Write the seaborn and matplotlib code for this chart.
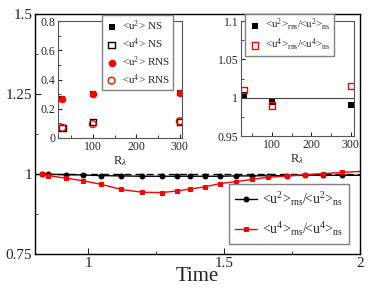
import numpy as np
import pandas as pd
import matplotlib
import seaborn as sns
import matplotlib.pyplot as plt
from matplotlib.ticker import FormatStrFormatter, MultipleLocator

# main panel: ratio of moments vs time
time = [0.830, 0.854, 0.918, 0.980, 1.047, 1.121, 1.198, 1.272, 1.326, 1.375,
        1.430, 1.485, 1.543, 1.602, 1.663, 1.731, 1.798, 1.863, 1.933, 2.0]
u2_ratio = [1.000, 0.999, 0.998, 0.997, 0.995, 0.994, 0.993, 0.993, 0.993, 0.993,
            0.993, 0.993, 0.994, 0.994, 0.995, 0.995, 0.996, 0.996, 0.996, 0.996]
u4_ratio = [1.000, 0.995, 0.987, 0.979, 0.968, 0.952, 0.943, 0.942, 0.947, 0.953,
            0.960, 0.970, 0.976, 0.983, 0.990, 0.994, 0.998, 1.001, 1.005, 1.008]

# inset 1: moments vs R_lambda
r_lambda = [30, 100, 300]
u2_ns = [0.27, 0.30, 0.305]
u4_ns = [0.07, 0.11, 0.11]
u2_rns = [0.27, 0.30, 0.305]
u4_rns = [0.07, 0.095, 0.115]

# inset 2: ratios vs R_lambda
u2_rat = [1.004, 0.994, 0.990]
u4_rat = [1.010, 0.990, 1.015]

sns.set_style('ticks')
plt.rcParams['font.family'] = ['Liberation Serif', 'DejaVu Serif']
plt.rcParams['mathtext.fontset'] = 'custom'
plt.rcParams['mathtext.rm'] = 'Liberation Serif'
plt.rcParams['mathtext.it'] = 'Liberation Serif:italic'
plt.rcParams['xtick.direction'] = 'in'
plt.rcParams['ytick.direction'] = 'in'

W, H = 374, 289
fig = plt.figure(figsize=(W / 100, H / 100), dpi=100)

def box(l, t, r, b):
    return [l / W, 1 - b / H, (r - l) / W, (b - t) / H]

ax = fig.add_axes(box(35, 14, 360, 254))
ax.axhline(1, ls='--', color='black', lw=1, dashes=(5, 3))
n = len(time)
lab2 = r'<u$^{2}$>$_{\rm rns}$/<u$^{2}$>$_{\rm ns}$'
lab4 = r'<u$^{4}$>$_{\rm rns}$/<u$^{4}$>$_{\rm ns}$'
sns.lineplot(x=time, y=u2_ratio, ax=ax, color='black', lw=1, marker='o',
             markersize=3.5, markeredgecolor='black', markevery=list(range(n - 1)),
             label=lab2)
sns.lineplot(x=time, y=u4_ratio, ax=ax, color='red', lw=1, marker='s',
             markersize=3, markeredgecolor='red', markevery=list(range(n - 1)),
             label=lab4)
ax.set_xlim(0.805, 2.0)
ax.set_ylim(0.75, 1.5)
ax.set_xticks([1, 1.5, 2])
ax.set_yticks([0.75, 1, 1.25, 1.5])
ax.xaxis.set_minor_locator(MultipleLocator(0.25))
ax.yaxis.set_minor_locator(MultipleLocator(0.125))
ax.xaxis.set_major_formatter(FormatStrFormatter('%g'))
ax.yaxis.set_major_formatter(FormatStrFormatter('%g'))
ax.tick_params(labelsize=11, length=4, width=0.8, pad=2)
ax.tick_params(which='minor', length=2.5)
ax.set_xlabel('Time', fontsize=15, labelpad=-2)
ax.set_ylabel('')
for s in ax.spines.values():
    s.set_linewidth(1)
    s.set_color('black')
ax.legend(loc='lower right', bbox_to_anchor=(349 / W, 1 - 244 / H), bbox_transform=fig.transFigure,
          fontsize=10, frameon=True, fancybox=False, edgecolor='gray', framealpha=1,
          handlelength=1.6, handletextpad=0.4, borderpad=0.4, labelspacing=0.9,
          borderaxespad=0)

# inset 1
ax1 = fig.add_axes(box(58, 21, 182, 138))
sns.scatterplot(x=r_lambda, y=u2_ns, ax=ax1, marker='s', color='black', s=22, linewidth=0,
                label=r'<u$^{2}$> NS')
sns.scatterplot(x=r_lambda, y=u4_ns, ax=ax1, marker='s', facecolor='none', edgecolor='black',
                s=22, linewidth=1, label=r'<u$^{4}$> NS')
sns.scatterplot(x=r_lambda, y=u2_rns, ax=ax1, marker='o', color='red', s=30, linewidth=0,
                label=r'<u$^{2}$> RNS')
sns.scatterplot(x=r_lambda, y=u4_rns, ax=ax1, marker='o', facecolor='none', edgecolor='red',
                s=24, linewidth=1, label=r'<u$^{4}$> RNS')
ax1.set_xlim(20, 305)
ax1.set_ylim(0, 0.8)
ax1.set_xticks([100, 200, 300])
ax1.set_yticks([0, 0.2, 0.4, 0.6, 0.8])
ax1.xaxis.set_minor_locator(MultipleLocator(50))
ax1.yaxis.set_minor_locator(MultipleLocator(0.1))
ax1.yaxis.set_major_formatter(FormatStrFormatter('%g'))
ax1.tick_params(labelsize=8.5, length=3, pad=2)
ax1.tick_params(which='minor', length=2)
ax1.set_xlabel(r'R$_{\lambda}$', fontsize=9, labelpad=1)
for s in ax1.spines.values():
    s.set_linewidth(0.8)
    s.set_color('#555555')
ax1.legend(loc='upper right', bbox_to_anchor=(173 / W, 1 - 15 / H), bbox_transform=fig.transFigure,
           fontsize=8, frameon=True, fancybox=False, edgecolor='gray', framealpha=1,
           handlelength=1.2, handletextpad=0.3, borderpad=0.3, labelspacing=0.3,
           borderaxespad=0)

# inset 2
ax2 = fig.add_axes(box(241, 21, 354, 136))
ax2.axhline(1, color='#444444', lw=0.8)
sns.scatterplot(x=r_lambda, y=u2_rat, ax=ax2, marker='s', color='black', s=22, linewidth=0,
                label=r'<u$^{2}$>$_{\rm rns}$/<u$^{2}$>$_{\rm ns}$')
sns.scatterplot(x=r_lambda, y=u4_rat, ax=ax2, marker='s', facecolor='none', edgecolor='red',
                s=22, linewidth=1, label=r'<u$^{4}$>$_{\rm rns}$/<u$^{4}$>$_{\rm ns}$')
ax2.set_xlim(22, 308)
ax2.set_ylim(0.95, 1.1)
ax2.set_xticks([100, 200, 300])
ax2.set_yticks([0.95, 1, 1.05, 1.1])
ax2.xaxis.set_minor_locator(MultipleLocator(50))
ax2.yaxis.set_minor_locator(MultipleLocator(0.025))
ax2.yaxis.set_major_formatter(FormatStrFormatter('%g'))
ax2.tick_params(labelsize=8.5, length=3, pad=2)
ax2.tick_params(which='minor', length=2)
ax2.set_xlabel(r'R$_{\lambda}$', fontsize=9, labelpad=1)
for s in ax2.spines.values():
    s.set_linewidth(0.8)
    s.set_color('#555555')
ax2.legend(loc='upper left', bbox_to_anchor=(245 / W, 1 - 14 / H), bbox_transform=fig.transFigure,
           fontsize=8, frameon=True, fancybox=False, edgecolor='gray', framealpha=1,
           handlelength=1.2, handletextpad=0.3, borderpad=0.3, labelspacing=0.3,
           borderaxespad=0)

fig.savefig('out.png', dpi=100)
